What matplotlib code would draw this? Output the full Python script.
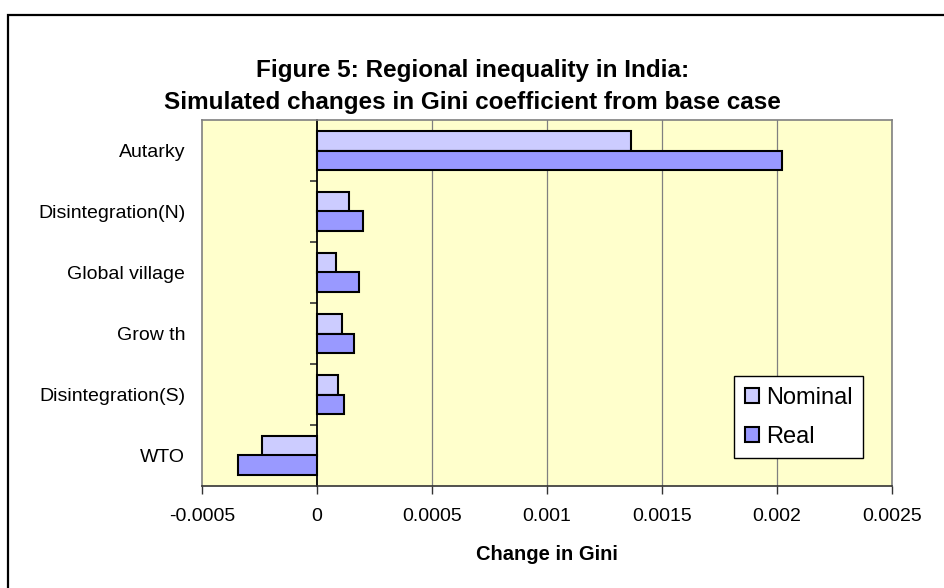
import matplotlib
matplotlib.use("Agg")
import matplotlib.pyplot as plt
from matplotlib.patches import Rectangle
import numpy as np

plt.rcParams['font.family'] = ['Liberation Sans', 'DejaVu Sans']

categories = ["Autarky", "Disintegration(N)", "Global village", "Grow th", "Disintegration(S)", "WTO"]
nominal = [0.001365, 0.00014, 0.000082, 0.00011, 0.000092, -0.00024]
real = [0.00202, 0.00020, 0.000184, 0.00016, 0.000117, -0.000345]
xticks = [-0.0005, 0, 0.0005, 0.001, 0.0015, 0.002, 0.0025]
xticklabels = ["-0.0005", "0", "0.0005", "0.001", "0.0015", "0.002", "0.0025"]

W, H = 945, 588
fig = plt.figure(figsize=(W / 100, H / 100), dpi=100)
fig.patch.set_facecolor("white")

# outer chart border (left and top visible)
fig.patches.append(Rectangle((8 / W, -0.1), 1.2, (H - 15) / H + 0.1, transform=fig.transFigure,
                             fill=False, edgecolor="black", linewidth=1.6, zorder=0))

top_px, bot_px = 120, 486
ax = fig.add_axes([202 / W, (H - bot_px) / H, 690 / W, (bot_px - top_px) / H])
ax.set_facecolor("#FFFFCC")

n = len(categories)
ypos = np.arange(n)[::-1]
h = 0.32
ax.barh(ypos + h / 2, nominal, height=h, color="#CCCCFF", edgecolor="black", linewidth=1.5,
        label="Nominal", zorder=3)
ax.barh(ypos - h / 2, real, height=h, color="#9999FF", edgecolor="black", linewidth=1.5,
        label="Real", zorder=3)

ax.set_xlim(-0.0005, 0.0025)
ax.set_ylim(-0.5, n - 0.5)
ax.set_xticks(xticks)
ax.set_xticklabels(xticklabels, fontsize=14)
ax.tick_params(axis="x", direction="out", length=6, width=1, color="#333333", pad=10)
for x in xticks[2:]:
    ax.axvline(x, color="#808080", linewidth=0.9, zorder=1)

ax.set_yticks(ypos)
ax.set_yticklabels(categories, fontsize=14)
ax.tick_params(axis="y", length=0, pad=12)

for s in ["left", "right", "top"]:
    ax.spines[s].set_color("#808080")
    ax.spines[s].set_linewidth(1.2)
ax.spines["bottom"].set_color("#333333")
ax.spines["bottom"].set_linewidth(1.2)

# category axis at x = 0
sec = ax.secondary_yaxis(0.5 / 3.0)
sec.set_yticks(np.arange(n - 1) + 0.5)
sec.set_yticklabels([])
sec.tick_params(length=5, width=1.2, color="#333333", direction="out")
sec.spines["left"].set_color("black")
sec.spines["left"].set_linewidth(1.3)

ax.set_xlabel("Change in Gini", fontsize=14.5, fontweight="bold", labelpad=14)

fig.text(0.5, (H - 71) / H, "Figure 5: Regional inequality in India:", ha="center", va="center",
         fontsize=17.5, fontweight="bold")
fig.text(0.5, (H - 103) / H, "Simulated changes in Gini coefficient from base case", ha="center",
         va="center", fontsize=17.5, fontweight="bold")

leg = ax.legend(loc="upper left",
                bbox_to_anchor=((734 - 202) / 690, (bot_px - 376) / (bot_px - top_px)),
                fontsize=17, frameon=True, fancybox=False, edgecolor="black",
                handlelength=0.6, handleheight=0.6, handletextpad=0.3, borderpad=0.45,
                labelspacing=0.72, borderaxespad=0)
leg.get_frame().set_linewidth(1.0)
leg.get_frame().set_facecolor("white")
leg.get_frame().set_alpha(1.0)
leg.set_zorder(5)

fig.savefig("out.png", dpi=100)
